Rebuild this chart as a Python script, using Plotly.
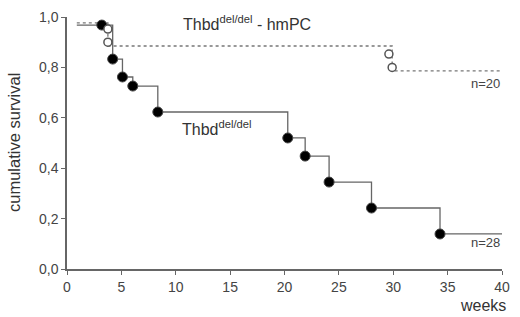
import plotly.graph_objects as go

# Thbd del/del (solid, filled markers) - step at each event
ko_x = [0.9, 3.2, 4.2, 5.1, 6.05, 8.35, 20.3, 21.9, 24.1, 28.0, 34.3, 40.0]
ko_y = [0.968, 0.968, 0.833, 0.762, 0.726, 0.623, 0.520, 0.448, 0.345, 0.242, 0.139, 0.139]
ko_mx = [3.2, 4.2, 5.1, 6.05, 8.35, 20.3, 21.9, 24.1, 28.0, 34.3]
ko_my = [0.968, 0.833, 0.762, 0.726, 0.623, 0.520, 0.448, 0.345, 0.242, 0.139]

# Thbd del/del - hmPC (dotted, open markers)
pc_x = [0.9, 3.76, 3.76, 29.3, 29.9, 40.0]
pc_y = [0.977, 0.95, 0.885, 0.885, 0.786, 0.786]
pc_mx = [3.76, 3.76, 29.6, 29.9]
pc_my = [0.952, 0.90, 0.853, 0.80]

x_ticks = [0, 5, 10, 15, 20, 25, 30, 35, 40]
y_ticks = [0.0, 0.2, 0.4, 0.6, 0.8, 1.0]
y_labels = ["0,0", "0,2", "0,4", "0,6", "0,8", "1,0"]

FONT = "Liberation Sans"
GRAY = "#666666"

fig = go.Figure()
fig.add_trace(go.Scatter(x=pc_x, y=pc_y, mode="lines", line_shape="hv",
                         line=dict(color="#777777", width=1.3, dash="dot"),
                         hoverinfo="skip", cliponaxis=False))
fig.add_trace(go.Scatter(x=ko_x, y=ko_y, mode="lines", line_shape="hv",
                         line=dict(color="#666666", width=1.3),
                         hoverinfo="skip", cliponaxis=False))
fig.add_trace(go.Scatter(x=ko_mx, y=ko_my, mode="markers",
                         marker=dict(size=10, color="#000000",
                                     line=dict(color="#444444", width=1)),
                         cliponaxis=False))
fig.add_trace(go.Scatter(x=pc_mx, y=pc_my, mode="markers",
                         marker=dict(size=8, color="#ffffff",
                                     line=dict(color="#555555", width=1.5)),
                         cliponaxis=False))

fig.update_layout(
    width=520, height=317,
    margin=dict(l=67, r=18, t=17, b=48),
    paper_bgcolor="white", plot_bgcolor="white",
    showlegend=False,
    font=dict(family=FONT, color="#444444", size=14),
    xaxis=dict(range=[0, 40], tickvals=x_ticks, showgrid=False, zeroline=False,
               showline=True, linecolor=GRAY, linewidth=1.5,
               ticks="outside", ticklen=4, tickcolor=GRAY, automargin=False,
               tickfont=dict(size=14, color="#444444")),
    yaxis=dict(range=[0, 1.0], tickvals=y_ticks, ticktext=y_labels,
               showgrid=False, zeroline=False,
               showline=True, linecolor=GRAY, linewidth=1.5,
               ticks="outside", ticklen=4, tickcolor=GRAY, automargin=False,
               tickfont=dict(size=14, color="#444444")),
    annotations=[
        dict(x=0, y=0.5, xref="paper", yref="paper", xanchor="center", yanchor="middle",
             xshift=-53, textangle=-90,
             text="cumulative survival", showarrow=False,
             font=dict(size=16.5, color="#333333")),
        dict(x=10.5, y=0.975, xref="x", yref="y", xanchor="left", yanchor="middle",
             text="Thbd<sup>del/del</sup> - hmPC", showarrow=False,
             font=dict(size=16, color="#333333")),
        dict(x=10.4, y=0.56, xref="x", yref="y", xanchor="left", yanchor="middle",
             text="Thbd<sup>del/del</sup>", showarrow=False,
             font=dict(size=16, color="#333333")),
        dict(x=40, y=0.735, xref="x", yref="y", xanchor="right", yanchor="middle",
             text="n=20", showarrow=False, font=dict(size=13, color="#444444")),
        dict(x=40, y=0.105, xref="x", yref="y", xanchor="right", yanchor="middle",
             text="n=28", showarrow=False, font=dict(size=13, color="#444444")),
        dict(x=1.0, y=0, xref="paper", yref="paper", xanchor="right", yanchor="middle",
             yshift=-36, xshift=6,
             text="weeks", showarrow=False, font=dict(size=16, color="#333333")),
    ],
)

fig.write_html("out.html", config={"displayModeBar": False},
               post_script="document.body.style.margin='0';document.body.style.overflow='hidden';")
